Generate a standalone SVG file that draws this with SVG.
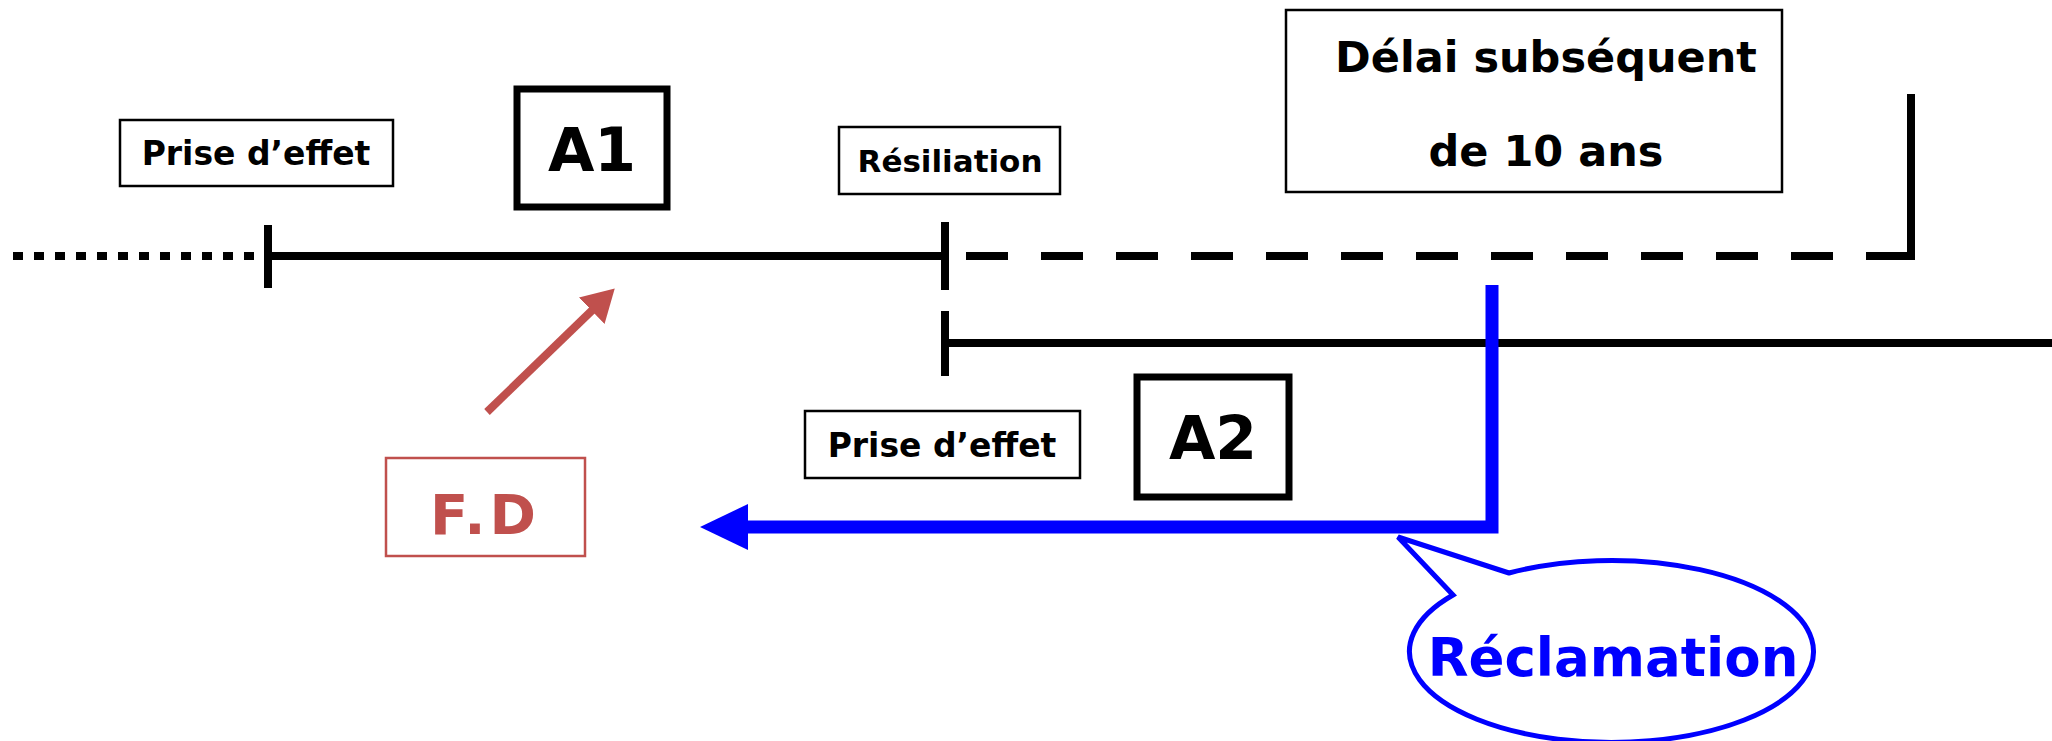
<svg xmlns="http://www.w3.org/2000/svg" width="2052" height="741" viewBox="0 0 2052 741">
<style>
  .t{font-family:"DejaVu Sans","Noto Sans",sans-serif;font-weight:bold;text-anchor:middle;fill:#000}
  .box{fill:#fff;stroke:#000;stroke-width:2.5}
  .bbox{fill:#fff;stroke:#000;stroke-width:7}
  .blk{stroke:#000;stroke-width:8;fill:none}
  .blue{stroke:#0000FF;stroke-width:13;fill:none}
</style>
<defs>
  <marker id="redHead" markerWidth="6" markerHeight="6" refX="3" refY="2.5" orient="auto" markerUnits="strokeWidth">
    <path d="M0,0.2 L4,2.5 L0,4.8 z" fill="#C0504D"/>
  </marker>
</defs>
<rect width="2052" height="741" fill="#fff"/>
<g id="connectors">
  <line x1="13" y1="256" x2="262" y2="256" class="blk" stroke-dasharray="10 11"/>
  <line x1="268" y1="256" x2="945" y2="256" class="blk"/>
  <line x1="268" y1="225" x2="268" y2="288" class="blk"/>
  <line x1="945" y1="222" x2="945" y2="290" class="blk"/>
  <line x1="966" y1="256" x2="1907" y2="256" class="blk" stroke-dasharray="42 33"/>
  <line x1="1870" y1="256" x2="1915" y2="256" class="blk"/>
  <line x1="1911" y1="94" x2="1911" y2="260" class="blk"/>
  <line x1="945" y1="311" x2="945" y2="376" class="blk"/>
  <line x1="945" y1="343" x2="2052" y2="343" class="blk"/>
  <polyline points="1492,285 1492,527 745,527" class="blue"/>
  <polygon points="700,527 748,504 748,550" fill="#0000FF"/>
  <line x1="487" y1="412" x2="609" y2="294" stroke="#C0504D" stroke-width="8" marker-end="url(#redHead)"/>
</g>
<g id="prise1">
  <rect x="120" y="120" width="273" height="66" class="box"/>
  <text x="256" y="165" class="t" font-size="33">Prise d’effet</text>
</g>
<g id="a1">
  <rect x="517" y="89" width="150" height="118" class="bbox"/>
  <text x="592" y="171" class="t" font-size="60">A1</text>
</g>
<g id="resiliation">
  <rect x="839" y="127" width="221" height="67" class="box"/>
  <text x="950" y="172" class="t" font-size="31">Résiliation</text>
</g>
<g id="delai">
  <rect x="1286" y="10" width="496" height="182" class="box"/>
  <text x="1546" y="72" class="t" font-size="43">Délai subséquent</text>
  <text x="1546" y="166" class="t" font-size="43">de 10 ans</text>
</g>
<g id="prise2">
  <rect x="805" y="411" width="275" height="67" class="box"/>
  <text x="942" y="457" class="t" font-size="33">Prise d’effet</text>
</g>
<g id="a2">
  <rect x="1137" y="377" width="152" height="120" class="bbox"/>
  <text x="1213" y="459" class="t" font-size="60">A2</text>
</g>
<g id="fd">
  <rect x="386" y="458" width="199" height="98" fill="#fff" stroke="#C0504D" stroke-width="2.5"/>
  <text x="485" y="534" class="t" font-size="56" style="fill:#C0504D" letter-spacing="4">F.D</text>
</g>
<g id="reclamation">
  <path d="M1509,573 L1398,537 L1453,595 A202,91 0 1 0 1509,573 Z" fill="#fff" stroke="#0000FF" stroke-width="5" stroke-linejoin="miter"/>
  <text x="1613" y="676" class="t" font-size="53" style="fill:#0000FF">Réclamation</text>
</g>
</svg>
